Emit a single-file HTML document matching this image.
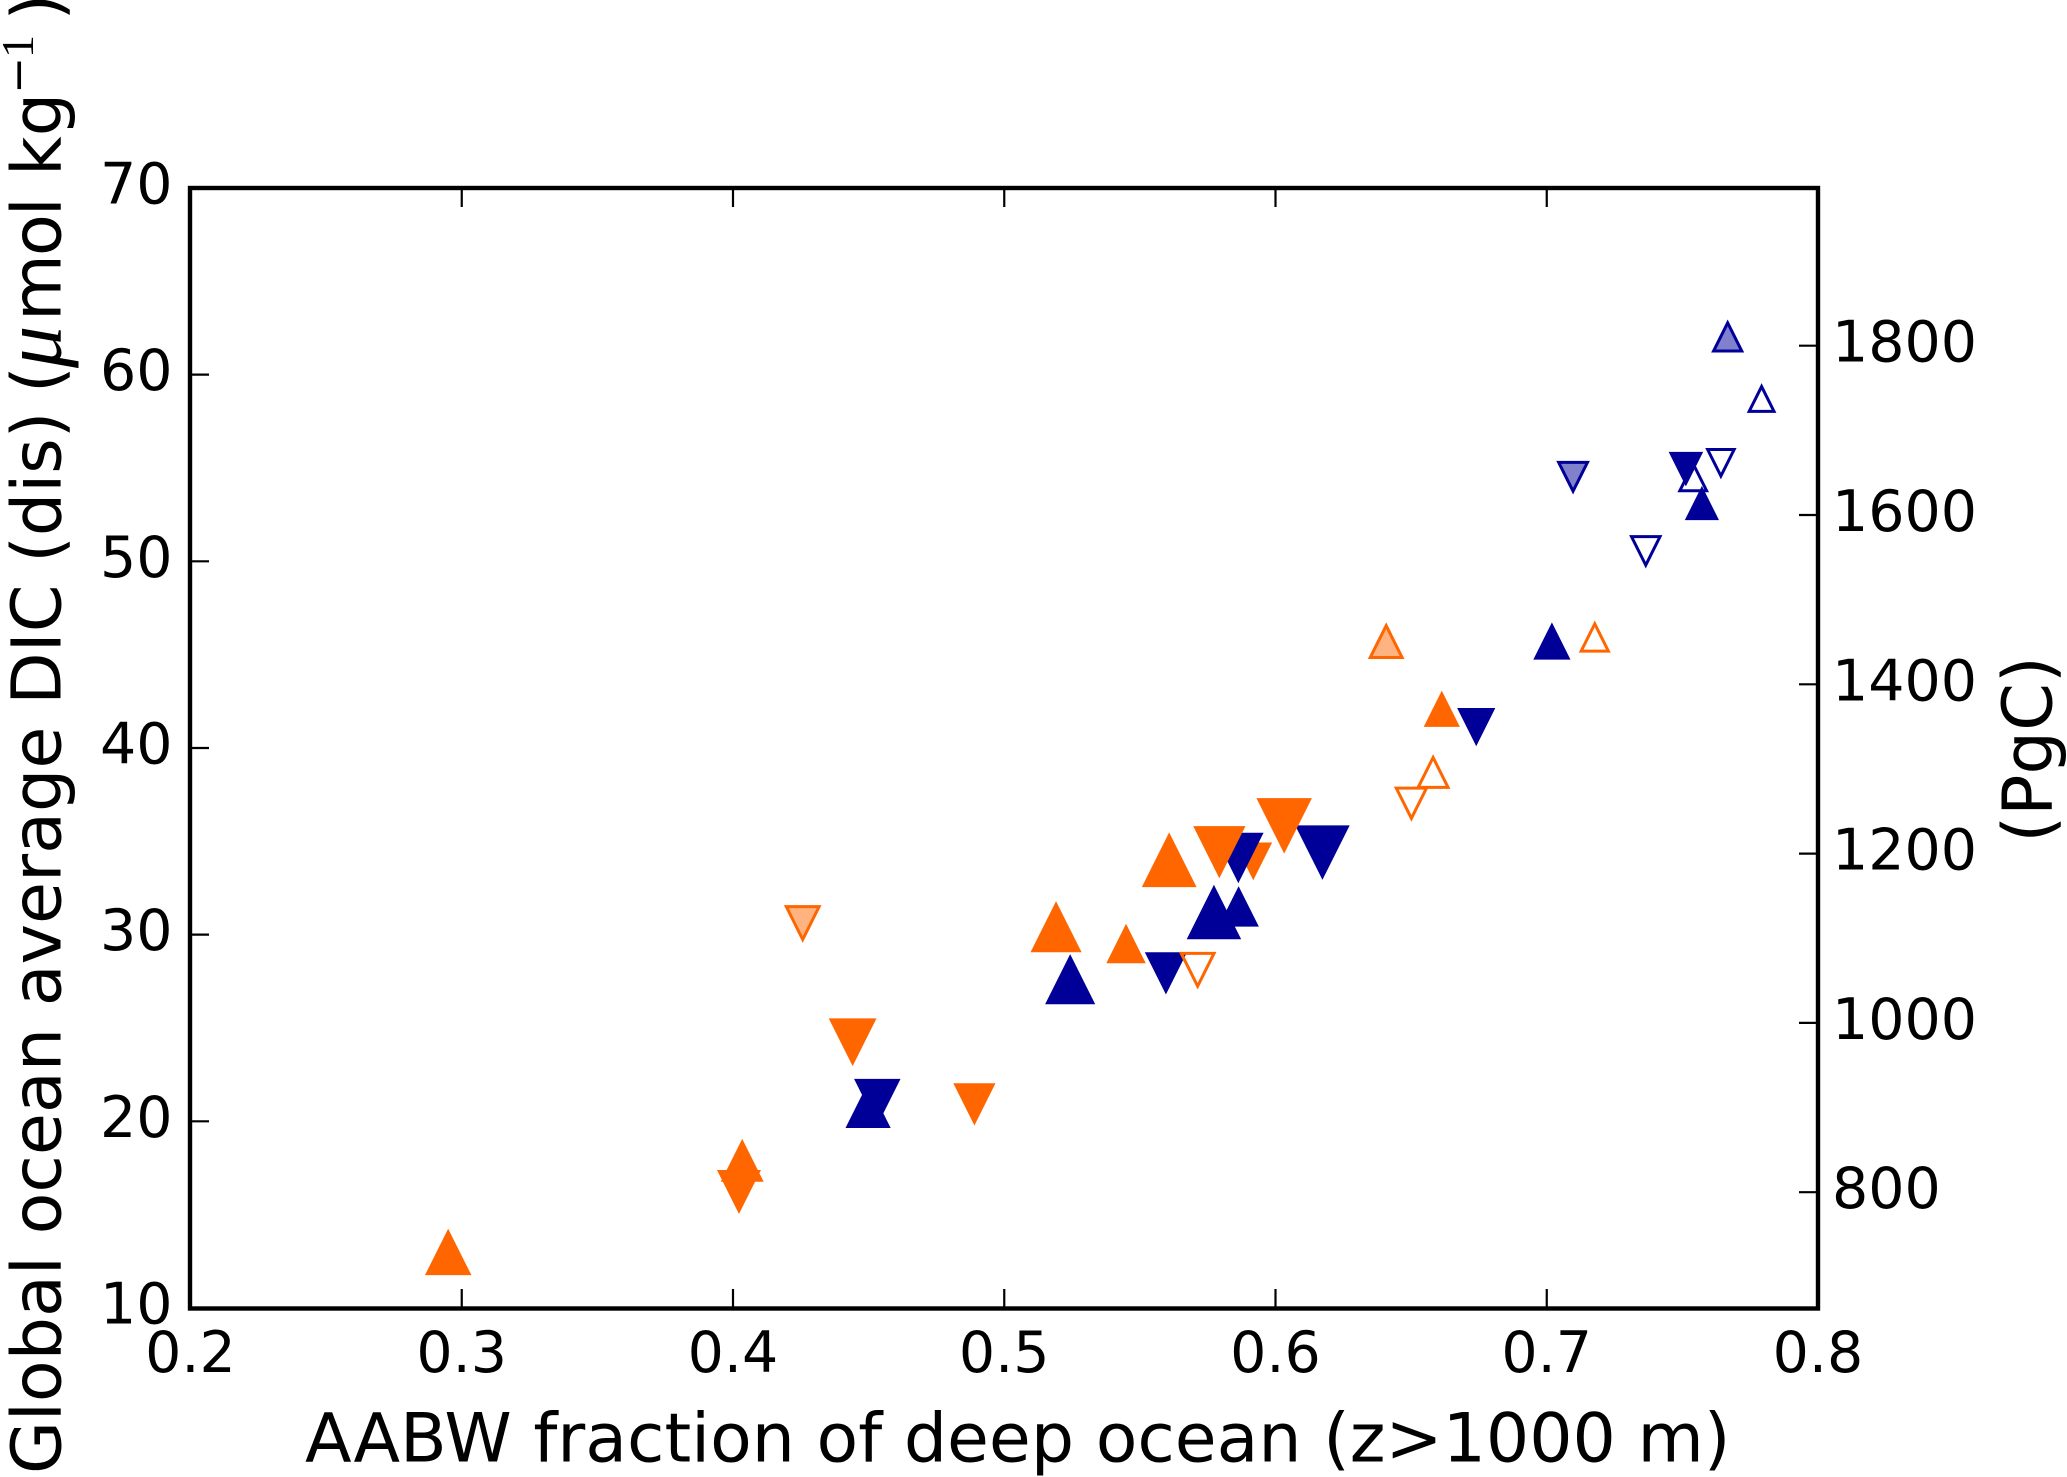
<!DOCTYPE html>
<html lang="en">
<head>
<meta charset="utf-8">
<title>AABW fraction vs global ocean DIC</title>
<style>
html,body{margin:0;padding:0;background:#fff;}
body{width:2067px;height:1477px;overflow:hidden;}
svg{display:block;}
text{font-family:"DejaVu Sans","Liberation Sans",sans-serif;fill:#000;}
</style>
</head>
<body>
<svg id="chart" xmlns="http://www.w3.org/2000/svg" width="2067" height="1477" viewBox="0 0 2067 1477">
  <rect x="0" y="0" width="2067" height="1477" fill="#fff"/>
  <g id="marks"></g>
  <g id="ticks"></g>
  <rect x="190" y="188" width="1628" height="1120.5" fill="none" stroke="#000" stroke-width="4.4" stroke-linejoin="miter"/>

  <text x="305" y="1461.5" font-size="68.1">AABW fraction of deep ocean (z&gt;1000 m)</text>

  <g>
    <text transform="translate(60.5 1474) rotate(-90)" font-size="68.3">Global ocean average DIC (dis)</text>
    <text transform="translate(60.5 393) rotate(-90)" font-size="68.6">(</text>
    <text transform="translate(60.5 368) rotate(-90)" font-size="84" font-style="italic" style="font-family:'Liberation Serif',serif">μ</text>
    <text transform="translate(60.5 321) rotate(-90)" font-size="68.6" letter-spacing="-2">mol</text>
    <text transform="translate(60.5 176) rotate(-90)" font-size="68.6">kg</text>
    <text transform="translate(33 93.6) rotate(-90)" font-size="44">−</text>
    <text transform="translate(33 58) rotate(-90)" font-size="46" style="font-family:'Liberation Serif',serif">1</text>
    <text transform="translate(60.5 20.5) rotate(-90)" font-size="68.6">)</text>
  </g>

  <text transform="translate(2051.7 842.6) rotate(-90)" font-size="68.6">(PgC)</text>
</svg>

<script>
// Axis tick labels
const xTickValues = [0.2, 0.3, 0.4, 0.5, 0.6, 0.7, 0.8];
const xTickLabels = ['0.2', '0.3', '0.4', '0.5', '0.6', '0.7', '0.8'];
const yTickValues = [10, 20, 30, 40, 50, 60, 70];
const yTickLabels = ['10', '20', '30', '40', '50', '60', '70'];
const rightTickValues = [800, 1000, 1200, 1400, 1600, 1800];
const rightTickLabels = ['800', '1000', '1200', '1400', '1600', '1800'];

// Scatter data, listed in drawing order
const aabwFraction = [
  0.7365, 0.7540, 0.7642, 0.7792,
  0.7097, 0.7667,
  0.5918,
  0.4498, 0.5243, 0.5773, 0.5864, 0.7019, 0.7572,
  0.4532, 0.5596, 0.5863, 0.6173, 0.6740, 0.7513,
  0.2950, 0.4034, 0.5191, 0.5449, 0.5608, 0.6613,
  0.4022, 0.4441, 0.4890, 0.5793, 0.6032,
  0.4257, 0.6408,
  0.5713, 0.6501, 0.6581, 0.7177
];
const dicValues = [
  50.56, 54.50, 55.28, 58.70,
  54.53, 62.02,
  33.94,
  20.84, 27.60, 31.20, 31.50, 45.72, 53.11,
  21.04, 27.94, 34.12, 34.41, 41.13, 54.95,
  12.99, 17.90, 30.41, 29.51, 34.00, 42.09,
  16.23, 24.25, 20.92, 34.43, 35.84,
  30.62, 45.70,
  28.12, 37.04, 38.69, 45.92
];
const sizeValues = [
  3.30, 3.13, 3.10, 2.93,
  3.33, 3.27,
  3.73,
  4.47, 4.96, 5.40, 4.00, 3.67, 3.37,
  4.60, 4.17, 5.00, 5.40, 3.77, 3.40,
  4.60, 4.24, 5.06, 3.90, 5.43, 3.57,
  4.35, 4.73, 4.17, 5.17, 5.50,
  3.73, 3.64,
  3.73, 3.47, 3.44, 3.17
];
const waterMass = [
  'navy', 'navy', 'navy', 'navy',
  'navy', 'navy',
  'orange',
  'navy', 'navy', 'navy', 'navy', 'navy', 'navy',
  'navy', 'navy', 'navy', 'navy', 'navy', 'navy',
  'orange', 'orange', 'orange', 'orange', 'orange', 'orange',
  'orange', 'orange', 'orange', 'orange', 'orange',
  'orange', 'orange',
  'orange', 'orange', 'orange', 'orange'
];
const direction = [
  'down', 'up', 'down', 'up',
  'down', 'up',
  'down',
  'up', 'up', 'up', 'up', 'up', 'up',
  'down', 'down', 'down', 'down', 'down', 'down',
  'up', 'up', 'up', 'up', 'up', 'up',
  'down', 'down', 'down', 'down', 'down',
  'down', 'up',
  'down', 'down', 'up', 'up'
];
const fillKind = [
  'open', 'open', 'open', 'open',
  'light', 'light',
  'solid',
  'solid', 'solid', 'solid', 'solid', 'solid', 'solid',
  'solid', 'solid', 'solid', 'solid', 'solid', 'solid',
  'solid', 'solid', 'solid', 'solid', 'solid', 'solid',
  'solid', 'solid', 'solid', 'solid', 'solid',
  'light', 'light',
  'open', 'open', 'open', 'open'
];

const NS = 'http://www.w3.org/2000/svg';
const colorMap = { navy: '#000099', orange: '#ff6600' };
const lightMap = { navy: '#8080cc', orange: '#ffb380' };

function xScale(v) { return 190.5 + (v - 0.2) * 2712.5; }
function yScale(v) { return 1308 - (v - 10) * 18.667; }
function rightScale(v) { return 345.7 + (1800 - v) * 0.8465; }
function sizeScale(v) { return v * 10; }

const marksGroup = document.getElementById('marks');
const ticksGroup = document.getElementById('ticks');

function tickLine(x1, y1, x2, y2, name) {
  const l = document.createElementNS(NS, 'line');
  l.setAttribute('x1', x1);
  l.setAttribute('y1', y1);
  l.setAttribute('x2', x2);
  l.setAttribute('y2', y2);
  l.setAttribute('stroke', '#000');
  l.setAttribute('stroke-width', '2.2');
  
  
  ticksGroup.appendChild(l);
}

function tickText(x, y, anchor, str, name) {
  const t = document.createElementNS(NS, 'text');
  t.setAttribute('x', x);
  t.setAttribute('y', y);
  t.setAttribute('text-anchor', anchor);
  t.setAttribute('font-size', '57');
  t.textContent = str;
  
  
  ticksGroup.appendChild(t);
}

xTickValues.forEach(function (v, i) {
  const x = xScale(v);
  tickLine(x, 1308, x, 1289, 'x-tick-bottom');
  tickLine(x, 188, x, 207, 'x-tick-top');
  tickText(x, 1372, 'middle', xTickLabels[i], 'x-tick-label');
});

yTickValues.forEach(function (v, i) {
  const y = yScale(v);
  tickLine(190, y, 209, y, 'y-tick-left');
  tickText(172.5, y + 15.5, 'end', yTickLabels[i], 'y-tick-label');
});

rightTickValues.forEach(function (v, i) {
  const y = rightScale(v);
  tickLine(1818, y, 1799, y, 'right-tick');
  tickText(1832, y + 16, 'start', rightTickLabels[i], 'right-tick-label');
});

aabwFraction.forEach(function (v, i) {
  const kind = fillKind[i];
  const outlined = kind !== 'solid';
  const inset = outlined ? 4.5 : 0.8;
  const half = (sizeScale(sizeValues[i]) - inset) / 2;
  const cx = xScale(v);
  const cy = yScale(dicValues[i]);
  const s = direction[i] === 'up' ? 1 : -1;
  const p = document.createElementNS(NS, 'polygon');
  p.setAttribute('points',
    cx + ',' + (cy - s * half) + ' ' +
    (cx - half) + ',' + (cy + s * half) + ' ' +
    (cx + half) + ',' + (cy + s * half));
  const col = colorMap[waterMass[i]];
  p.setAttribute('stroke', col);
  p.setAttribute('stroke-width', outlined ? '3' : '0.8');
  p.setAttribute('stroke-linejoin', 'miter');
  p.setAttribute('stroke-miterlimit', '10');
  p.setAttribute('fill', kind === 'solid' ? col : (kind === 'light' ? lightMap[waterMass[i]] : 'none'));
  
  
  marksGroup.appendChild(p);
});
</script>
</body>
</html>
